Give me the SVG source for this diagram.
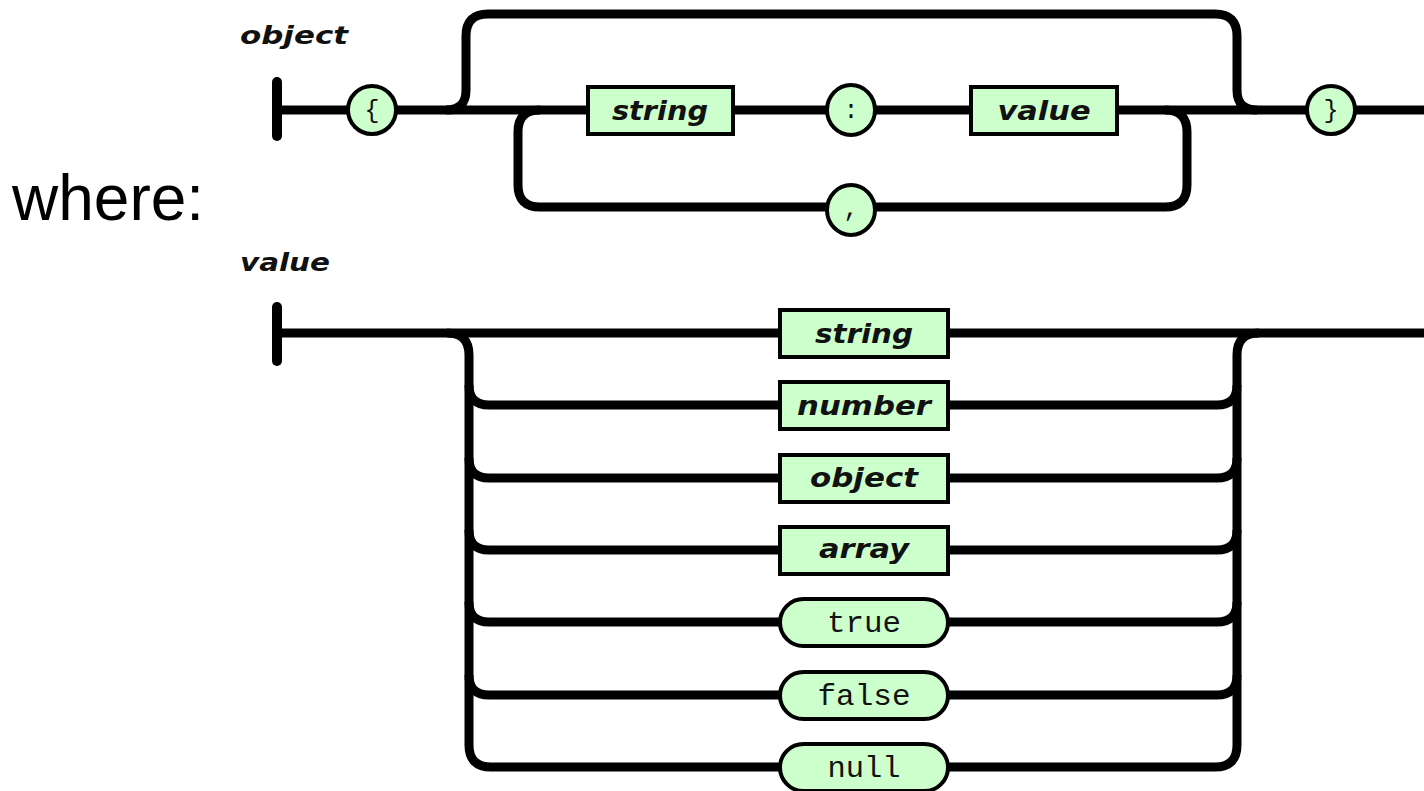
<svg xmlns="http://www.w3.org/2000/svg" width="1424" height="791" viewBox="0 0 1424 791">
<style>
.ln{fill:none;stroke:#000;stroke-width:9;stroke-linecap:butt;stroke-linejoin:round}
.bar{stroke:#000;stroke-width:10;stroke-linecap:round}
.box{fill:#ccffcc;stroke:#000;stroke-width:4}
.lbl{font-family:"DejaVu Sans",Verdana,sans-serif;font-weight:bold;font-style:italic;font-size:27px;fill:#111;text-anchor:middle}
.ttl{font-family:"DejaVu Sans",Verdana,sans-serif;font-weight:bold;font-style:italic;font-size:25px;fill:#111}
.mono{font-family:"Liberation Mono","DejaVu Sans Mono",monospace;font-size:29px;fill:#111;text-anchor:middle}
.sym{font-family:"Liberation Mono","DejaVu Sans Mono",monospace;font-size:25px;fill:#111;text-anchor:middle}
</style>
<rect width="1424" height="791" fill="#fff"/>
<text x="12" y="220" font-family="Liberation Sans,Arial,sans-serif" font-size="64" fill="#000">where:</text>
<text class="ttl" x="240" y="44" textLength="108" lengthAdjust="spacingAndGlyphs">object</text>
<text class="ttl" x="240" y="271" textLength="90" lengthAdjust="spacingAndGlyphs">value</text>

<g id="connectors">
  <!-- object diagram -->
  <line class="bar" x1="277" y1="82" x2="277" y2="136"/>
  <line class="bar" x1="1429" y1="82" x2="1429" y2="136"/>
  <path class="ln" d="M277,110 L1424,110"/>
  <path class="ln" d="M446,110 Q466,110 466,90 L466,36 Q466,14 488,14 L1215,14 Q1237,14 1237,36 L1237,90 Q1237,110 1257,110"/>
  <path class="ln" d="M540,110 Q518,110 518,132 L518,185 Q518,207 540,207 L1165,207 Q1187,207 1187,185 L1187,132 Q1187,110 1165,110"/>
  <!-- value diagram -->
  <line class="bar" x1="277" y1="307" x2="277" y2="361"/>
  <line class="bar" x1="1429" y1="307" x2="1429" y2="361"/>
  <path class="ln" d="M277,333 L1424,333"/>
  <path class="ln" d="M447,333 Q469,333 469,355 L469,745 Q469,767 491,767 L1215,767 Q1237,767 1237,745 L1237,355 Q1237,333 1259,333"/>
  <path class="ln" d="M469,385 Q469,405 489,405 L1217,405 Q1237,405 1237,385"/>
  <path class="ln" d="M469,458 Q469,478 489,478 L1217,478 Q1237,478 1237,458"/>
  <path class="ln" d="M469,530 Q469,550 489,550 L1217,550 Q1237,550 1237,530"/>
  <path class="ln" d="M469,602 Q469,622 489,622 L1217,622 Q1237,622 1237,602"/>
  <path class="ln" d="M469,675 Q469,695 489,695 L1217,695 Q1237,695 1237,675"/>
</g>

<g id="n-lbrace"><circle class="box" cx="372" cy="110" r="24"/><text class="sym" x="372" y="118">{</text></g>
<g id="n-string1"><rect class="box" x="588" y="87" width="145" height="47"/><text class="lbl" x="660" y="120" textLength="96" lengthAdjust="spacingAndGlyphs">string</text></g>
<g id="n-colon"><ellipse class="box" cx="851" cy="110" rx="24" ry="25"/><text class="sym" x="851" y="118">:</text></g>
<g id="n-value1"><rect class="box" x="971" y="87" width="146" height="47"/><text class="lbl" x="1044" y="120" textLength="93" lengthAdjust="spacingAndGlyphs">value</text></g>
<g id="n-rbrace"><circle class="box" cx="1331" cy="110" r="24"/><text class="sym" x="1331" y="118">}</text></g>
<g id="n-comma"><ellipse class="box" cx="851" cy="210" rx="24" ry="25"/><text class="sym" x="851" y="216">,</text></g>

<g id="n-string2"><rect class="box" x="780" y="310" width="168" height="47"/><text class="lbl" x="864" y="343" textLength="98" lengthAdjust="spacingAndGlyphs">string</text></g>
<g id="n-number"><rect class="box" x="780" y="382" width="168" height="47"/><text class="lbl" x="864" y="415" textLength="134" lengthAdjust="spacingAndGlyphs">number</text></g>
<g id="n-object"><rect class="box" x="780" y="455" width="168" height="47"/><text class="lbl" x="864" y="487" textLength="108" lengthAdjust="spacingAndGlyphs">object</text></g>
<g id="n-array"><rect class="box" x="780" y="527" width="168" height="47"/><text class="lbl" x="864" y="558" textLength="90" lengthAdjust="spacingAndGlyphs">array</text></g>
<g id="n-true"><rect class="box" x="780" y="599" width="168" height="47" rx="23.5"/><text class="mono" x="864" y="632" textLength="74" lengthAdjust="spacingAndGlyphs">true</text></g>
<g id="n-false"><rect class="box" x="780" y="672" width="168" height="47" rx="23.5"/><text class="mono" x="864" y="705" textLength="93" lengthAdjust="spacingAndGlyphs">false</text></g>
<g id="n-null"><rect class="box" x="780" y="744" width="168" height="47" rx="23.5"/><text class="mono" x="864" y="777" textLength="73" lengthAdjust="spacingAndGlyphs">null</text></g>
</svg>
